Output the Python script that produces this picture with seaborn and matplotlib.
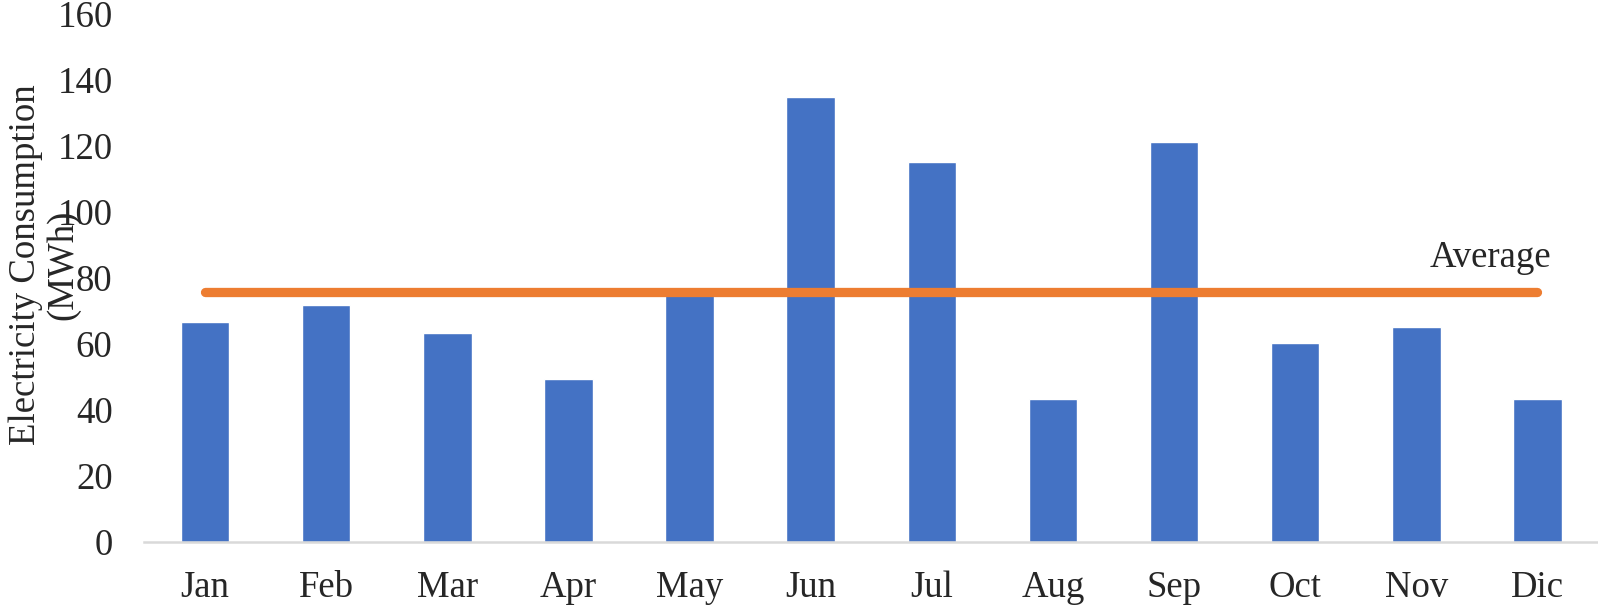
import matplotlib
matplotlib.use('Agg')
import matplotlib.pyplot as plt
import seaborn as sns
import pandas as pd

# Monthly values
months = ['Jan', 'Feb', 'Mar', 'Apr', 'May', 'Jun', 'Jul', 'Aug', 'Sep', 'Oct', 'Nov', 'Dic']
consumption = [66.6, 71.8, 63.2, 49.4, 76.0, 134.9, 115.1, 43.4, 121.3, 60.4, 65.3, 43.4]
average = [75.9] * 12
yticks = [0, 20, 40, 60, 80, 100, 120, 140, 160]

data = pd.DataFrame({'Month': months, 'Consumption': consumption, 'Average': average})

sns.set_style('white')
plt.rcParams['font.family'] = ['Liberation Serif', 'DejaVu Serif']
fs = 26.5

fig = plt.figure(figsize=(15.98, 6.06), dpi=100)
ax = fig.add_axes([0.0904, 0.1056, 0.9096, 0.8713])

sns.barplot(data=data, x='Month', y='Consumption', color='#4472C4', saturation=1,
            width=0.4, ax=ax)
sns.lineplot(data=data, x='Month', y='Average', color='#ED7D31', linewidth=6.7,
             ax=ax, solid_capstyle='round')

ax.annotate('Average', xy=(11, average[-1]), xytext=(10, 24.5), textcoords='offset points',
            ha='right', va='center', fontsize=fs)

ax.set_xlim(-0.5, 11.5)
ax.set_ylim(0, 160)
ax.set_yticks(yticks)
ax.tick_params(axis='both', labelsize=fs, length=0)
ax.tick_params(axis='y', pad=23)
ax.tick_params(axis='x', pad=20.5)
ax.set_xlabel('')
ax.set_ylabel('Electricity Consumption\n(MWh)', fontsize=fs, linespacing=1.1)
ax.yaxis.set_label_coords(-0.044, 0.525)

for side in ['top', 'right', 'left']:
    ax.spines[side].set_visible(False)
ax.spines['bottom'].set_color('#D9D9D9')
ax.spines['bottom'].set_linewidth(1.8)

fig.savefig('out.png', dpi=100)
